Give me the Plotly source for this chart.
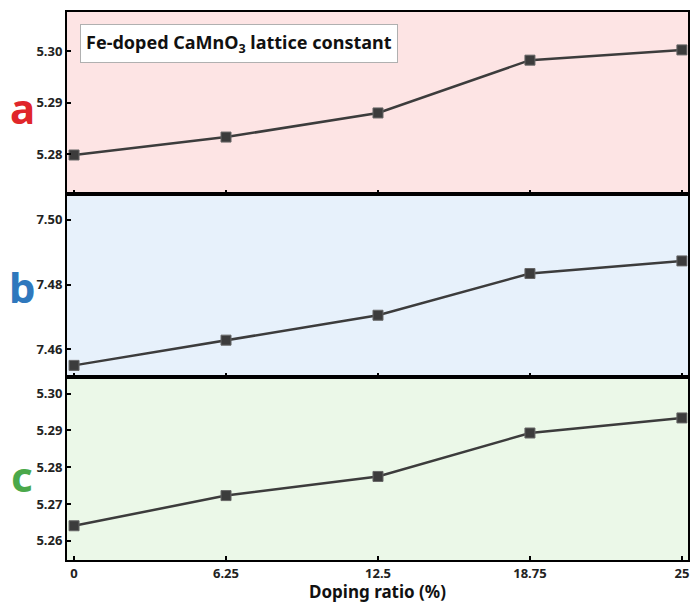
import plotly.graph_objects as go
from plotly.subplots import make_subplots

doping = [0, 6.25, 12.5, 18.75, 25]
x_ticks = [0, 6.25, 12.5, 18.75, 25]
x_tick_labels = ["0", "6.25", "12.5", "18.75", "25"]
lattice_a = [5.2798, 5.2833, 5.2880, 5.2983, 5.3003]
lattice_b = [7.4550, 7.4628, 7.4705, 7.4834, 7.4873]
lattice_c = [5.2641, 5.2723, 5.2775, 5.2893, 5.2934]

panel_letters = ["a", "b", "c"]
letter_colors = ["#e0262a", "#2f78bd", "#4aa84a"]
bg_colors = ["#fde4e4", "#e7f1fb", "#ebf8e8"]
series = [lattice_a, lattice_b, lattice_c]
y_ranges = [[5.2722, 5.3077], [7.4515, 7.508], [5.2548, 5.3046]]
y_ticks = [[5.28, 5.29, 5.30], [7.46, 7.48, 7.50], [5.26, 5.27, 5.28, 5.29, 5.30]]

FONT = "Noto Sans"
fig = make_subplots(rows=3, cols=1, shared_xaxes=False, vertical_spacing=0)

domains = [[0.668, 1.0], [0.3345, 0.668], [0.0, 0.3345]]
letter_y_px = [108, 288, 477]
H_PLOT = 603 - 12 - 41

for i in range(3):
    r = i + 1
    fig.add_trace(go.Scatter(
        x=doping, y=series[i], mode="lines+markers",
        line=dict(color="#3c3c3c", width=2.5),
        marker=dict(symbol="square", size=10, color="#3c3c3c",
                    line=dict(color="#666666", width=1)),
        showlegend=False), row=r, col=1)
    xn = "x" if r == 1 else f"x{r}"
    fig.add_shape(type="rect", xref=f"{xn} domain", yref="paper",
                  x0=0, x1=1, y0=domains[i][0], y1=domains[i][1],
                  fillcolor=bg_colors[i], line=dict(width=0), layer="below")
    fig.update_xaxes(row=r, col=1, range=[-0.29, 25.25], tickvals=x_ticks,
                     ticktext=x_tick_labels, showticklabels=(r == 3),
                     ticks="inside", ticklen=4, tickwidth=2, tickcolor="black",
                     showline=True, linecolor="black", linewidth=2, mirror=True,
                     showgrid=False, zeroline=False,
                     tickfont=dict(family=FONT, size=13, color="#222", weight="bold"))
    fig.update_yaxes(row=r, col=1, range=y_ranges[i], tickvals=y_ticks[i],
                     tickformat=".2f", ticks="inside", ticklen=4, tickwidth=2,
                     tickcolor="black", showline=True, linecolor="black",
                     linewidth=2, mirror=True, showgrid=False, zeroline=False,
                     domain=domains[i],
                     tickfont=dict(family=FONT, size=13, color="#222", weight="bold"))
    fig.add_annotation(text=f"<b>{panel_letters[i]}</b>", xref="paper", yref="paper",
                       x=(22 - 67) / 623, y=1 - (letter_y_px[i] - 12) / H_PLOT,
                       xanchor="center", yanchor="middle", showarrow=False,
                       font=dict(family=FONT, size=42, color=letter_colors[i]))

fig.update_xaxes(row=3, col=1, title=dict(text="<b>Doping ratio (%)</b>",
                 font=dict(family=FONT, size=17, color="#111"), standoff=6))

fig.add_annotation(text="<b>Fe-doped CaMnO<sub>3</sub> lattice constant</b>",
                   xref="paper", yref="paper", x=(80 - 67) / 623, y=1 - (24 - 12) / H_PLOT,
                   xanchor="left", yanchor="top", showarrow=False,
                   bgcolor="white", bordercolor="#b0b0b0", borderwidth=1, borderpad=5,
                   font=dict(family=FONT, size=18, color="#111"))

fig.update_layout(width=694, height=603, margin=dict(l=67, r=4, t=12, b=41),
                  plot_bgcolor="rgba(0,0,0,0)", paper_bgcolor="white")
fig.write_html("out.html")
